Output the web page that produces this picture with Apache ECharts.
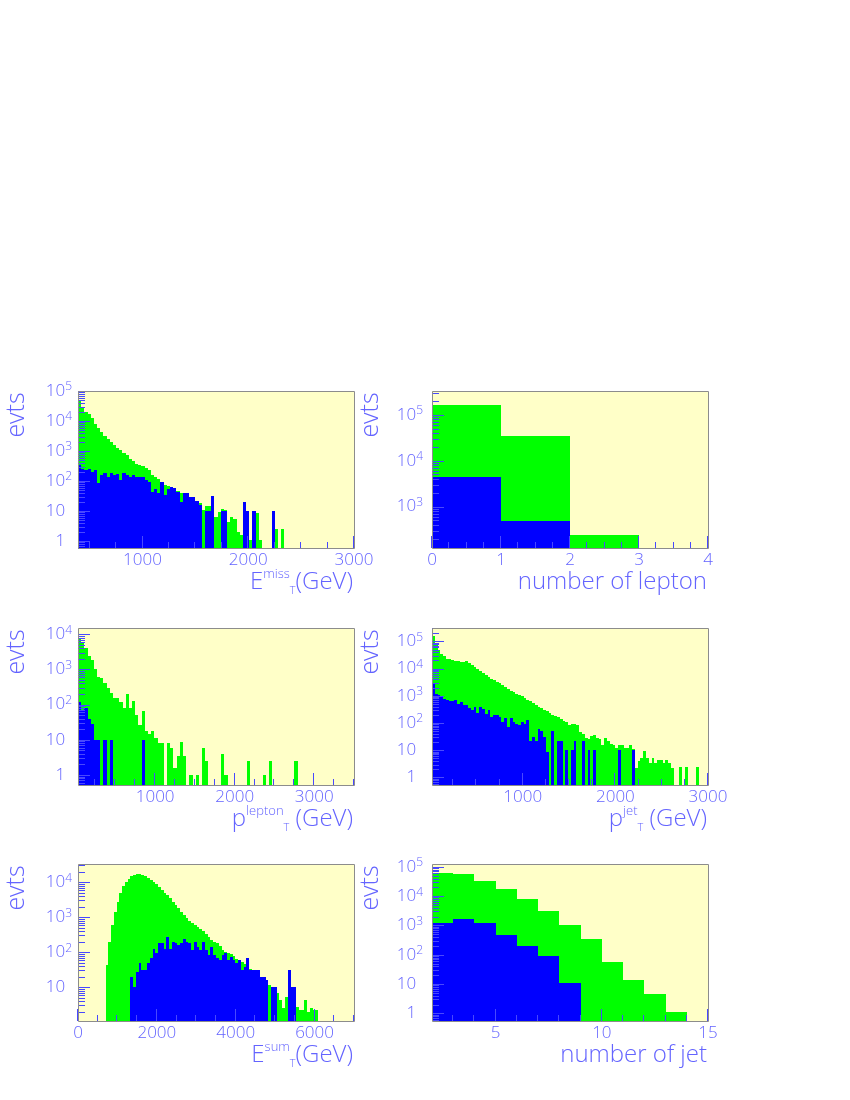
<!DOCTYPE html>
<html>
<head>
<meta charset="utf-8">
<title>evts</title>
<script src="https://cdn.jsdelivr.net/npm/echarts@6.0.0/dist/echarts.min.js"></script>
<style>
  html, body { margin: 0; padding: 0; background: #fff; }
  #chart { width: 850px; height: 1100px; }
</style>
</head>
<body>
<div id="chart"></div>
<script>
// ---- data (bin contents, 0 = empty bin) ----

// E_T^miss, 30 GeV bins from 390 GeV
const emissStart = 390, emissWidth = 30;
const emissGreen = [50000, 27500, 20400, 16600, 12300, 7900, 5750, 4200, 3170, 2450,
  1950, 1590, 1290, 1080, 880, 720, 530, 470, 370, 335,
  318, 265, 232, 158, 132, 114, 88, 74, 68, 61,
  53, 48, 41, 34, 31, 30, 30, 22, 18, 11,
  15, 15, 20, 6.5, 9.5, 12, 11, 4.4, 6.5, 5.6,
  2, 1.6, 10, 8, 1.1, 5, 8.3, 1.1, 0, 0,
  0, 5, 2.6, 0, 2.6];
const emissBlue = [340, 245, 232, 245, 205, 232, 84, 158, 180, 139,
  180, 158, 170, 108, 180, 158, 139, 158, 132, 139,
  132, 108, 95, 44, 53, 41, 95, 34, 53, 61,
  57, 44, 20, 41, 41, 30, 30, 22, 16, 0,
  10, 10, 31, 0, 0, 10, 10, 0, 0, 0,
  0, 0, 20, 10, 0, 10, 0, 0, 0, 0,
  0, 10];
const emissLabels = [1000, 2000, 3000];

// number of lepton, unit bins from 0
const lepStart = 0, lepWidth = 1;
const lepGreen = [165000, 35000, 245, 0];
const lepBlue = [4450, 480, 0, 0];
const lepLabels = [0, 1, 2, 3, 4];

// p_T^lepton, 40 GeV bins from 30 GeV
const lptStart = 30, lptWidth = 40;
const lptGreen = [7540, 6060, 4090, 2430, 1830, 1060, 615, 552, 398, 287,
  207, 156, 150, 120, 81, 194, 78, 126, 50, 27,
  65, 17.7, 14.2, 17.7, 11, 7.9, 7.9, 0, 7.9, 6,
  1.55, 3.5, 8.8, 3.5, 0, 1, 0, 1, 0, 6,
  2.5, 0, 0, 0, 0, 3.9, 1, 0, 0, 0,
  0, 0, 0, 2.5, 0, 0, 0, 0, 1, 0,
  2.5, 0, 0, 0, 0, 0, 0, 0, 2.5];
const lptBlue = [115, 70, 78, 39, 29, 9.8, 9.8, 0, 9.8, 0,
  9.8, 0, 0, 0, 0, 0, 0, 0, 0, 0,
  9.8];
const lptLabels = [1000, 2000, 3000];

// p_T^jet, 30 GeV bins from 20 GeV
const jptStart = 20, jptWidth = 30;
const jptGreen = [156700, 71300, 46800, 33400, 28200, 23200, 21900, 20100, 19000, 18500,
  18000, 17500, 18500, 16500, 14000, 11800, 9980, 8200, 7100, 6000,
  4930, 4290, 3720, 3240, 2890, 2590, 2180, 1840, 1560, 1390,
  1210, 1080, 966, 840, 710, 634, 535, 453, 404, 361,
  297, 273, 244, 206, 184, 164, 139, 117, 105, 84,
  89, 94, 84, 45, 38, 29, 27, 34, 36, 29,
  26, 15, 29, 21, 17, 15.5, 12.4, 15, 15, 12.4,
  11.7, 15, 11, 2.2, 4, 5.3, 9.4, 5.3, 3.3, 5,
  3.3, 4.4, 4.4, 3.3, 4.4, 3.3, 2.3, 0, 0, 2.5,
  0, 2.5, 0, 0, 0, 2.5];
const jptBlue = [2810, 1210, 1050, 914, 750, 690, 634, 634, 690, 521,
  600, 479, 453, 361, 297, 394, 244, 394, 342, 224,
  297, 169, 195, 206, 169, 111, 147, 73, 156, 111,
  96, 84, 111, 96, 128, 21, 31, 21, 60, 50,
  31, 8.8, 0, 50, 0, 21, 21, 0, 10, 0,
  10, 21, 0, 0, 21, 0, 10, 0, 10, 0,
  0, 0, 0, 0, 0, 0, 0, 10, 0, 0,
  0, 0, 10];
const jptLabels = [1000, 2000, 3000];

// E_T^sum, 70 GeV bins from 0
const esumStart = 0, esumWidth = 70;
const esumGreen = [0, 0, 0, 0, 0, 0, 0, 0, 0, 0,
  42.6, 198, 590, 1420, 2740, 4750, 7700, 10200, 12500, 14900,
  15900, 16900, 16900, 15900, 14900, 13300, 11900, 10200, 8800, 7400,
  5900, 4960, 4260, 3420, 2740, 2200, 1770, 1420, 1140, 917,
  787, 660, 590, 530, 465, 407, 327, 263, 220, 198,
  177, 149, 119, 102, 96, 86, 77, 62, 55, 53,
  45, 38, 32, 27.5, 22, 19.8, 19, 16.6, 13.3, 11.4,
  10.2, 7.4, 6.6, 4.3, 2.5, 5.3, 2.2, 4.3, 2.5, 2.7,
  2.2, 2.2, 4.3, 2, 2.5, 2.2, 2.2];
const esumBlue = [0, 0, 0, 0, 0, 0, 0, 0, 0, 0,
  0, 0, 0, 0, 0, 0, 0, 0, 0, 19.8,
  10.2, 27.5, 47.5, 30.6, 30.6, 47.5, 66, 127, 96, 185,
  177, 127, 263, 127, 198, 177, 158, 177, 245, 198,
  185, 114, 198, 142, 114, 198, 119, 82, 142, 82,
  66, 59, 82, 92, 59, 74, 59, 47.5, 59, 30.6,
  38, 66, 30.6, 30.6, 30.6, 30.6, 19.8, 19.8, 15.9, 0,
  10.2, 10.2, 0, 0, 0, 0, 30.6, 10.2, 10.2];
const esumLabels = [0, 2000, 4000, 6000];

// number of jet, unit bins from 2
const njetStart = 2, njetWidth = 1;
const njetGreen = [63000, 55000, 33600, 17000, 7940, 3180, 1030, 334, 56, 13.7, 4.56, 1.08, 0];
const njetBlue = [1240, 1610, 1175, 458, 203, 90, 10.5, 0, 0, 0, 0, 0, 0];
const njetLabels = [5, 10, 15];

// ---- look ----
const C_GREEN = '#00ff00';
const C_BLUE = '#0000ff';
const C_BG = '#ffffc8';
const C_TEXT = '#6464ff';
const C_TICK = '#4848ff';
const C_FRAME = '#8c8c8c';
const FONT = 'Open Sans';
const FW = 300;

const cols = [78, 432];
const rows = [391, 628, 864];
const W = 276, H = 157;

const panels = [
  { start: emissStart, width: emissWidth, green: emissGreen, blue: emissBlue, xLabels: emissLabels,
    xMin: 390, xMax: 3000, xMinor: 250, yMin: 0.585, yMax: 1e5,
    title: '{b|E}{sup|miss}{sub|T}{b|(GeV)}' },
  { start: lepStart, width: lepWidth, green: lepGreen, blue: lepBlue, xLabels: lepLabels,
    xMin: 0, xMax: 4, xMinor: 0.25, yMin: 125, yMax: 3.3e5,
    title: '{b|number of lepton}' },
  { start: lptStart, width: lptWidth, green: lptGreen, blue: lptBlue, xLabels: lptLabels,
    xMin: 30, xMax: 3500, xMinor: 250, yMin: 0.52, yMax: 15000,
    title: '{b|p}{sup|lepton}{sub|T}{b| (GeV)}' },
  { start: jptStart, width: jptWidth, green: jptGreen, blue: jptBlue, xLabels: jptLabels,
    xMin: 20, xMax: 3000, xMinor: 250, yMin: 0.53, yMax: 3.1e5,
    title: '{b|p}{sup|jet}{sub|T}{b| (GeV)}' },
  { start: esumStart, width: esumWidth, green: esumGreen, blue: esumBlue, xLabels: esumLabels,
    xMin: 0, xMax: 7000, xMinor: 500, yMin: 1.08, yMax: 3.3e4,
    title: '{b|E}{sup|sum}{sub|T}{b|(GeV)}' },
  { start: njetStart, width: njetWidth, green: njetGreen, blue: njetBlue, xLabels: njetLabels,
    xMin: 2, xMax: 15, xMinor: 1, yMin: 0.55, yMax: 1.25e5,
    title: '{b|number of jet}' }
];

function histData(start, width, values) {
  const out = [];
  values.forEach(function (v, i) {
    if (v > 0) out.push([start + i * width, start + (i + 1) * width, v]);
  });
  return out;
}

function xTickData(p) {
  const out = [];
  p.xLabels.forEach(function (v) { out.push([v, p.yMin, 12]); });
  const first = Math.ceil(p.xMin / p.xMinor) * p.xMinor;
  for (let v = first; v <= p.xMax + 1e-9; v += p.xMinor) {
    if (v > p.xMin && p.xLabels.indexOf(v) < 0) out.push([v, p.yMin, 6]);
  }
  return out;
}

function yTickData(p) {
  const out = [];
  for (let k = -1; k <= 6; k++) {
    for (let m = 1; m <= 9; m++) {
      const v = m * Math.pow(10, k);
      if (v >= p.yMin && v <= p.yMax) out.push([p.xMin, v, m === 1 ? 12 : 7]);
    }
  }
  return out;
}

function histItem(color) {
  return function (params, api) {
    const cs = params.coordSys;
    const a = api.coord([api.value(0), api.value(2)]);
    const b = api.coord([api.value(1), api.value(2)]);
    const x0 = Math.round(a[0]), x1 = Math.round(b[0]);
    const bottom = cs.y + cs.height;
    const top = Math.max(cs.y, Math.round(a[1]));
    return {
      type: 'rect',
      shape: { x: x0, y: top, width: x1 - x0, height: bottom - top },
      style: { fill: color }
    };
  };
}

function xTickItem(params, api) {
  const cs = params.coordSys;
  const x = Math.round(api.coord([api.value(0), api.value(1)])[0]) - 0.5;
  const yb = cs.y + cs.height;
  return { type: 'line', shape: { x1: x, y1: yb, x2: x, y2: yb - api.value(2) },
    style: { stroke: C_TICK, lineWidth: 1 } };
}

function yTickItem(params, api) {
  const cs = params.coordSys;
  const y = Math.round(api.coord([api.value(0), api.value(1)])[1]) + 0.5;
  return { type: 'line', shape: { x1: cs.x, y1: y, x2: cs.x + api.value(2), y2: y },
    style: { stroke: C_TICK, lineWidth: 1 } };
}

function yLabel(v) {
  const e = Math.log10(v);
  const k = Math.round(e);
  if (Math.abs(e - k) > 1e-6) return '';
  if (k === 0) return '{b|1}{h|0}';
  if (k === 1) return '{b|10}{h|0}';
  return '{b|10}{s|' + k + '}';
}

const grids = [], xAxes = [], yAxes = [], series = [], graphics = [];

panels.forEach(function (p, i) {
  const left = cols[i % 2], top = rows[Math.floor(i / 2)];
  grids.push({ left: left, top: top, width: W, height: H, show: true,
    backgroundColor: C_BG, borderWidth: 0 });

  xAxes.push({
    gridIndex: i, type: 'value', min: p.xMin, max: p.xMax,
    axisLine: { show: false }, axisTick: { show: false }, splitLine: { show: false },
    axisLabel: {
      customValues: p.xLabels, margin: 4, color: C_TEXT, fontSize: 17,
      fontFamily: FONT, fontWeight: FW,
      formatter: function (v) { return String(v); }
    }
  });

  yAxes.push({
    gridIndex: i, type: 'log', logBase: 10, min: p.yMin, max: p.yMax,
    axisLine: { show: false }, axisTick: { show: false }, splitLine: { show: false },
    axisLabel: {
      margin: i % 2 === 0 ? 6 : 9,
      formatter: yLabel,
      rich: {
        b: { fontSize: 17, lineHeight: 20, color: C_TEXT, fontFamily: FONT, fontWeight: FW },
        s: { fontSize: 12, lineHeight: 6, verticalAlign: 'top', color: C_TEXT, fontFamily: FONT, fontWeight: FW },
        h: { fontSize: 12, color: 'transparent', fontFamily: FONT }
      }
    }
  });

  series.push({
    type: 'custom', xAxisIndex: i, yAxisIndex: i, z: 2, silent: true,
    renderItem: histItem(C_GREEN), encode: { x: [0, 1], y: 2 },
    data: histData(p.start, p.width, p.green)
  });
  series.push({
    type: 'custom', xAxisIndex: i, yAxisIndex: i, z: 3, silent: true,
    renderItem: histItem(C_BLUE), encode: { x: [0, 1], y: 2 },
    data: histData(p.start, p.width, p.blue)
  });
  series.push({
    type: 'custom', xAxisIndex: i, yAxisIndex: i, z: 4, silent: true,
    renderItem: xTickItem, encode: { x: 0, y: 1 }, data: xTickData(p)
  });
  series.push({
    type: 'custom', xAxisIndex: i, yAxisIndex: i, z: 4, silent: true,
    renderItem: yTickItem, encode: { x: 0, y: 1 }, data: yTickData(p)
  });

  // frame
  graphics.push({
    type: 'rect', z: 100, silent: true,
    shape: { x: left + 0.5, y: top + 0.5, width: W, height: H },
    style: { fill: 'none', stroke: C_FRAME, lineWidth: 1 }
  });
  // y title
  graphics.push({
    type: 'text', z: 100, silent: true, x: left - 61, y: top + 24, rotation: Math.PI / 2,
    style: { text: 'evts', fill: C_TEXT, fontSize: 25, fontFamily: FONT, fontWeight: FW,
      align: 'center', verticalAlign: 'middle' }
  });
  // x title
  graphics.push({
    type: 'text', z: 100, silent: true, x: left + W - 1, y: top + H + 48,
    style: {
      text: p.title, align: 'right', verticalAlign: 'bottom', fill: C_TEXT,
      rich: {
        b: { fontSize: 24, lineHeight: 28, fill: C_TEXT, fontFamily: FONT, fontWeight: FW },
        sup: { fontSize: 13, lineHeight: 14, verticalAlign: 'top', fill: C_TEXT, fontFamily: FONT, fontWeight: FW },
        sub: { fontSize: 11, lineHeight: 16, verticalAlign: 'bottom', fill: C_TEXT, fontFamily: FONT, fontWeight: FW }
      }
    }
  });
});

const chart = echarts.init(document.getElementById('chart'), null, { renderer: 'canvas' });
chart.setOption({
  backgroundColor: '#ffffff',
  animation: false,
  grid: grids,
  xAxis: xAxes,
  yAxis: yAxes,
  series: series,
  graphic: graphics
});
</script>
</body>
</html>
